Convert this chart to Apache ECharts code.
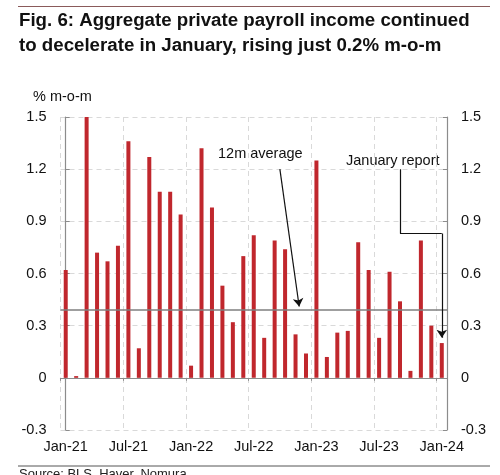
<!DOCTYPE html>
<html>
<head>
    <meta charset="UTF-8">
    <title>Fig. 6</title>
    <style>
        html, body { margin: 0; padding: 0; background: #fff; }
        #main { width: 500px; height: 475px; }
    </style>
    <script src="https://cdn.jsdelivr.net/npm/echarts@6/dist/echarts.min.js"></script>
</head>
<body>
    <div id="main"></div>
    <script type="text/javascript">
        // months Jan-21 .. Jan-24
        var months = ['Jan-21', 'Feb-21', 'Mar-21', 'Apr-21', 'May-21', 'Jun-21', 'Jul-21', 'Aug-21', 'Sep-21', 'Oct-21', 'Nov-21', 'Dec-21',
            'Jan-22', 'Feb-22', 'Mar-22', 'Apr-22', 'May-22', 'Jun-22', 'Jul-22', 'Aug-22', 'Sep-22', 'Oct-22', 'Nov-22', 'Dec-22',
            'Jan-23', 'Feb-23', 'Mar-23', 'Apr-23', 'May-23', 'Jun-23', 'Jul-23', 'Aug-23', 'Sep-23', 'Oct-23', 'Nov-23', 'Dec-23',
            'Jan-24'];
        // % m-o-m
        var payrollIncome = [0.62, 0.01, 1.50, 0.72, 0.67, 0.76, 1.36, 0.17, 1.27, 1.07, 1.07, 0.94,
            0.07, 1.32, 0.98, 0.53, 0.32, 0.70, 0.82, 0.23, 0.79, 0.74, 0.25, 0.14,
            1.25, 0.12, 0.26, 0.27, 0.78, 0.62, 0.23, 0.61, 0.44, 0.04, 0.79, 0.30,
            0.20];
        var avg12m = 0.39;
        var yTicks = [-0.3, 0, 0.3, 0.6, 0.9, 1.2, 1.5];

        // annotation pointers (x = month index, y = % m-o-m)
        var avgPointer = [[20.5, 1.2], [22.35, 0.41]];
        var janPointer = [[32, 1.2], [32, 0.83], [36, 0.83], [36, 0.23]];

        var red = '#c0272d';
        var font = 'Liberation Sans, Arial, sans-serif';
        var axisGrey = '#8c8c8c';

        // split a pointer into straight pieces, arrow head only on the last one
        function pointerSegments(pts) {
            var out = [];
            for (var i = 1; i < pts.length; i++) {
                out.push({
                    coords: [pts[i - 1], pts[i]],
                    symbol: i === pts.length - 1 ? ['none', 'arrow'] : ['none', 'none']
                });
            }
            return out;
        }

        var myChart = echarts.init(document.getElementById('main'));

        var yAxisBase = {
            type: 'value',
            min: yTicks[0],
            max: yTicks[yTicks.length - 1],
            interval: 0.3,
            axisLine: { show: true, lineStyle: { color: axisGrey, width: 1.2 } },
            axisTick: { show: true, inside: true, length: 4, lineStyle: { color: axisGrey } },
            axisLabel: {
                color: '#111', fontSize: 14.5, fontFamily: font, margin: 14,
                formatter: function (v) { return v === 0 ? '0' : v.toFixed(1); }
            }
        };

        var option = {
            animation: false,
            backgroundColor: '#fff',
            title: {
                text: 'Fig. 6: Aggregate private payroll income continued\nto decelerate in January, rising just 0.2% m-o-m',
                left: 19,
                top: 8,
                padding: 0,
                textStyle: { fontFamily: font, fontSize: 18.7, fontWeight: 'bold', color: '#111', lineHeight: 25 }
            },
            grid: { left: 60.5, right: 53, top: 117, bottom: 45, outerBoundsMode: 'none' },
            xAxis: [{
                // zero line with ticks and vertical grid
                type: 'category',
                data: months,
                axisLine: { onZero: true, lineStyle: { color: axisGrey, width: 1.2 } },
                axisTick: { show: true, interval: 5, length: 3, lineStyle: { color: axisGrey } },
                axisLabel: { show: false },
                splitLine: { show: true, interval: 5, lineStyle: { color: '#d9d9d9', type: [5, 4] } }
            }, {
                // helper axis for the annotation pointers
                type: 'value',
                min: -0.5,
                max: months.length - 0.5,
                show: false
            }, {
                // month labels along the bottom of the plot
                type: 'category',
                data: months,
                position: 'bottom',
                axisLine: { show: false, onZero: false },
                axisTick: { show: false },
                axisLabel: { interval: 5, color: '#111', fontSize: 14.5, fontFamily: font, margin: 9 },
                splitLine: { show: false }
            }],
            yAxis: [
                Object.assign({}, yAxisBase, {
                    position: 'left',
                    splitLine: { show: true, lineStyle: { color: '#d9d9d9', type: [5, 4] } }
                }),
                Object.assign({}, yAxisBase, {
                    position: 'right',
                    splitLine: { show: false }
                })
            ],
            graphic: [
                { type: 'line', shape: { x1: 18, y1: 6.5, x2: 490, y2: 6.5 }, style: { stroke: '#8a5a5a', lineWidth: 1 } },
                { type: 'text', left: 33, top: 89, style: { text: '% m-o-m', fontFamily: font, fontSize: 14.5, fill: '#111' } },
                { type: 'text', left: 218, top: 146, style: { text: '12m average', fontFamily: font, fontSize: 14.5, fill: '#111' } },
                { type: 'text', left: 346, top: 153, style: { text: 'January report', fontFamily: font, fontSize: 14.5, fill: '#111' } },
                { type: 'line', shape: { x1: 18, y1: 466, x2: 490, y2: 466 }, style: { stroke: '#555', lineWidth: 1 } },
                { type: 'text', left: 19, top: 468, style: { text: 'Source: BLS, Haver, Nomura', fontFamily: font, fontSize: 13, fill: '#222' } }
            ],
            series: [{
                name: 'Payroll income',
                type: 'bar',
                xAxisIndex: 0,
                data: payrollIncome,
                barWidth: 4,
                itemStyle: { color: red },
                markLine: {
                    silent: true,
                    symbol: 'none',
                    label: { show: false },
                    lineStyle: { color: '#7f7f7f', width: 1.5, type: 'solid' },
                    data: [{ yAxis: avg12m }]
                },
                z: 2
            }, {
                type: 'lines',
                coordinateSystem: 'cartesian2d',
                xAxisIndex: 1,
                yAxisIndex: 0,
                symbolSize: 8,
                lineStyle: { color: '#111', width: 1.2, opacity: 1 },
                data: pointerSegments(avgPointer).concat(pointerSegments(janPointer)),
                z: 5
            }]
        };

        myChart.setOption(option);
    </script>
</body>
</html>
